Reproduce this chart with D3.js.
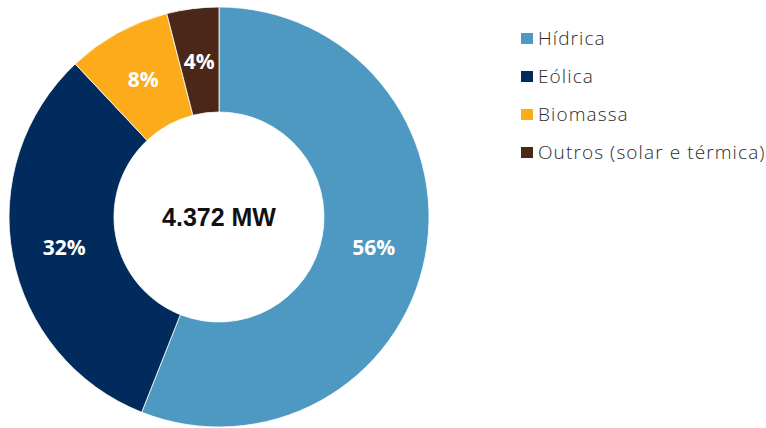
<!DOCTYPE html>
<html>
<head>
<meta charset="utf-8">
<script src="https://cdn.jsdelivr.net/npm/d3@7"></script>
<style>
  html, body { margin: 0; padding: 0; background: #fff; }
  svg { display: block; }
</style>
</head>
<body>
<svg id="chart" width="766" height="428"></svg>
<script>
// Installed capacity mix
const categories = ["Hídrica", "Eólica", "Biomassa", "Outros (solar e térmica)"];
const shares = [56, 32, 8, 4];
const colors = ["#4E99C1", "#002B5C", "#FCAB1A", "#4A2717"];
const totalLabel = "4.372 MW";

const svg = d3.select("#chart");
const cx = 219, cy = 217, outerR = 210, innerR = 105;

const data = categories.map((c, i) => ({ name: c, value: shares[i], color: colors[i] }));

const pie = d3.pie().value(d => d.value).sort(null);
const arc = d3.arc().innerRadius(innerR).outerRadius(outerR);

const g = svg.append("g").attr("transform", `translate(${cx},${cy})`);
const arcs = pie(data);

g.selectAll("path.slice")
  .data(arcs)
  .join("path")
  .attr("class", "slice")
  .attr("d", arc)
  .attr("fill", d => d.data.color)
  .attr("stroke", "#fff")
  .attr("stroke-width", 0.8);

g.selectAll("text.pct")
  .data(arcs)
  .join("text")
  .attr("class", "pct")
  .attr("transform", d => `translate(${arc.centroid(d)})`)
  .attr("text-anchor", "middle")
  .attr("dominant-baseline", "central")
  .attr("font-family", "'Open Sans', Lato, sans-serif")
  .attr("font-weight", 700)
  .attr("font-size", 21)
  .attr("fill", "#fff")
  .text(d => d.data.value + "%");

g.append("text")
  .attr("text-anchor", "middle")
  .attr("dominant-baseline", "central")
  .attr("font-family", "'Liberation Sans', Arial, sans-serif")
  .attr("font-weight", 700)
  .attr("font-size", 25)
  .attr("fill", "#111")
  .text(totalLabel);

// Legend
const legend = svg.append("g").attr("transform", "translate(521,0)");
const rowY = d3.scalePoint().domain(categories).range([38.5, 152.5]);

const items = legend.selectAll("g.item")
  .data(data)
  .join("g")
  .attr("class", "item")
  .attr("transform", d => `translate(0,${rowY(d.name)})`);

items.append("rect")
  .attr("x", 0).attr("y", -5.5)
  .attr("width", 12).attr("height", 11)
  .attr("fill", d => d.color);

items.append("text")
  .attr("x", 17)
  .attr("y", 6.5)
  .attr("font-family", "'Open Sans', Roboto, sans-serif")
  .attr("font-weight", 300)
  .attr("font-size", 19)
  .attr("letter-spacing", 1.1)
  .attr("fill", "#2b2b2b")
  .text(d => d.name);
</script>
</body>
</html>
